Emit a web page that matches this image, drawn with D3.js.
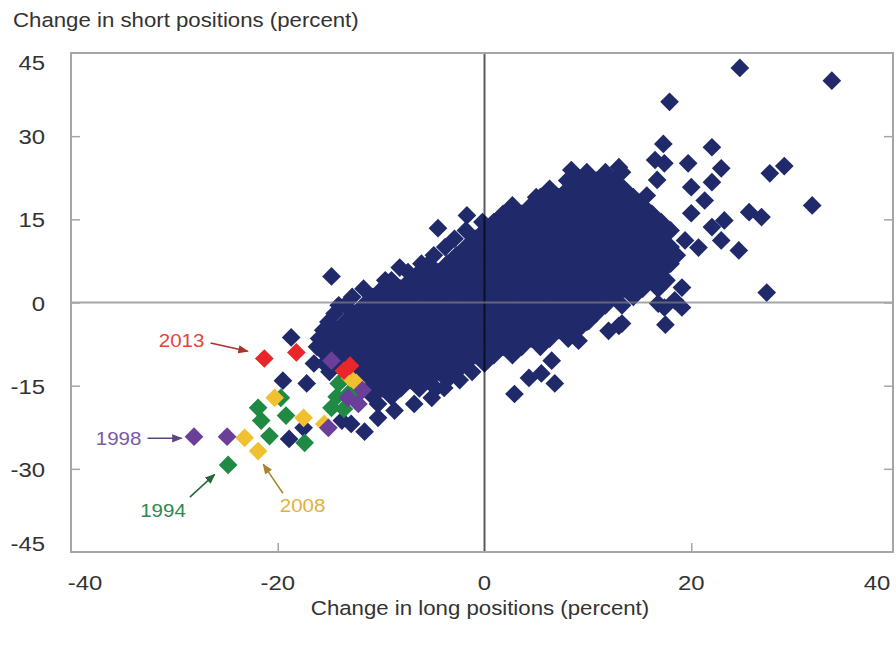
<!DOCTYPE html>
<html>
<head>
<meta charset="utf-8">
<script src="https://cdn.jsdelivr.net/npm/d3@7"></script>
<style>
  body { margin: 0; background: #fff; }
  svg { display: block; }
</style>
</head>
<body>
<svg id="chart" width="896" height="646"></svg>
<script>
// Achsen
const xTicks = [-40, -20, 0, 20, 40];
const yTicks = [-45, -30, -15, 0, 15, 30, 45];

const navyCloud = [
  [9.9,23.5],[11.7,23.5],[13.3,23.5],
  [8.0,22],[9.0,22],[10.8,22],[12.6,22],
  [6.3,20.5],[8.1,20.5],[9.9,20.5],[11.7,20.5],[13.5,20.5],
  [5.0,19],[5.4,19],[7.2,19],[9.0,19],[10.8,19],[12.6,19],[14.4,19],
  [2.7,17.5],[4.5,17.5],[6.3,17.5],[8.1,17.5],[9.9,17.5],[11.7,17.5],[13.5,17.5],[15.3,17.5],
  [1.8,16],[3.6,16],[5.4,16],[7.2,16],[9.0,16],[10.8,16],[12.6,16],[14.4,16],[16.2,16],
  [-0.2,14.5],[0.9,14.5],[2.7,14.5],[4.5,14.5],[6.3,14.5],[8.1,14.5],[9.9,14.5],[11.7,14.5],[13.5,14.5],[15.3,14.5],[17.1,14.5],
  [-1.8,13],[0,13],[1.8,13],[3.6,13],[5.4,13],[7.2,13],[9.0,13],[10.8,13],[12.6,13],[14.4,13],[16.2,13],[18.0,13],
  [-2.9,11.5],[-0.9,11.5],[0.9,11.5],[2.7,11.5],[4.5,11.5],[6.3,11.5],[8.1,11.5],[9.9,11.5],[11.7,11.5],[13.5,11.5],[15.3,11.5],[17.1,11.5],
  [-3.8,10],[-1.8,10],[0,10],[1.8,10],[3.6,10],[5.4,10],[7.2,10],[9.0,10],[10.8,10],[12.6,10],[14.4,10],[16.2,10],[18.0,10],
  [-4.9,8.5],[-2.7,8.5],[-0.9,8.5],[0.9,8.5],[2.7,8.5],[4.5,8.5],[6.3,8.5],[8.1,8.5],[9.9,8.5],[11.7,8.5],[13.5,8.5],[15.3,8.5],[17.1,8.5],[18.6,8.5],
  [-6.1,7],[-5.4,7],[-3.6,7],[-1.8,7],[0,7],[1.8,7],[3.6,7],[5.4,7],[7.2,7],[9.0,7],[10.8,7],[12.6,7],[14.4,7],[16.2,7],[18.0,7],
  [-7.4,5.5],[-6.3,5.5],[-4.5,5.5],[-2.7,5.5],[-0.9,5.5],[0.9,5.5],[2.7,5.5],[4.5,5.5],[6.3,5.5],[8.1,5.5],[9.9,5.5],[11.7,5.5],[13.5,5.5],[15.3,5.5],[17.1,5.5],
  [-9.6,4],[-9.0,4],[-7.2,4],[-5.4,4],[-3.6,4],[-1.8,4],[0,4],[1.8,4],[3.6,4],[5.4,4],[7.2,4],[9.0,4],[10.8,4],[12.6,4],[14.4,4],[16.2,4],[17.6,4],
  [-11.7,2.5],[-9.9,2.5],[-8.1,2.5],[-6.3,2.5],[-4.5,2.5],[-2.7,2.5],[-0.9,2.5],[0.9,2.5],[2.7,2.5],[4.5,2.5],[6.3,2.5],[8.1,2.5],[9.9,2.5],[11.7,2.5],[13.5,2.5],[15.3,2.5],[16.8,2.5],
  [-12.8,1],[-10.8,1],[-9.0,1],[-7.2,1],[-5.4,1],[-3.6,1],[-1.8,1],[0,1],[1.8,1],[3.6,1],[5.4,1],[7.2,1],[9.0,1],[10.8,1],[12.6,1],[14.4,1],
  [-14.1,-0.5],[-13.5,-0.5],[-11.7,-0.5],[-9.9,-0.5],[-8.1,-0.5],[-6.3,-0.5],[-4.5,-0.5],[-2.7,-0.5],[-0.9,-0.5],[0.9,-0.5],[2.7,-0.5],[4.5,-0.5],[6.3,-0.5],[8.1,-0.5],[9.9,-0.5],[11.7,-0.5],[13.3,-0.5],
  [-14.5,-2],[-12.6,-2],[-10.8,-2],[-9.0,-2],[-7.2,-2],[-5.4,-2],[-3.6,-2],[-1.8,-2],[0,-2],[1.8,-2],[3.6,-2],[5.4,-2],[7.2,-2],[9.0,-2],[10.8,-2],
  [-15.1,-3.5],[-13.5,-3.5],[-11.7,-3.5],[-9.9,-3.5],[-8.1,-3.5],[-6.3,-3.5],[-4.5,-3.5],[-2.7,-3.5],[-0.9,-3.5],[0.9,-3.5],[2.7,-3.5],[4.5,-3.5],[6.3,-3.5],[8.1,-3.5],[9.9,-3.5],
  [-15.6,-5],[-14.4,-5],[-12.6,-5],[-10.8,-5],[-9.0,-5],[-7.2,-5],[-5.4,-5],[-3.6,-5],[-1.8,-5],[0,-5],[1.8,-5],[3.6,-5],[5.4,-5],[7.2,-5],[9.0,-5],
  [-16.0,-6.5],[-15.3,-6.5],[-13.5,-6.5],[-11.7,-6.5],[-9.9,-6.5],[-8.1,-6.5],[-6.3,-6.5],[-4.5,-6.5],[-2.7,-6.5],[-0.9,-6.5],[0.9,-6.5],[2.7,-6.5],[4.5,-6.5],[6.3,-6.5],[8.1,-6.5],
  [-16.2,-8],[-14.4,-8],[-12.6,-8],[-10.8,-8],[-9.0,-8],[-7.2,-8],[-5.4,-8],[-3.6,-8],[-1.8,-8],[0,-8],[1.8,-8],[3.6,-8],[5.4,-8],
  [-15.3,-9.5],[-13.5,-9.5],[-11.7,-9.5],[-9.9,-9.5],[-8.1,-9.5],[-6.3,-9.5],[-4.5,-9.5],[-2.7,-9.5],[-0.9,-9.5],[0.9,-9.5],[2.7,-9.5],
  [-15.5,-11],[-14.4,-11],[-12.6,-11],[-10.8,-11],[-9.0,-11],[-7.2,-11],[-5.4,-11],[-3.6,-11],[-1.8,-11],[0,-11],
  [-15.0,-12.5],[-13.5,-12.5],[-11.7,-12.5],[-9.9,-12.5],[-8.1,-12.5],[-6.3,-12.5],[-4.5,-12.5],[-2.7,-12.5],[-1.2,-12.5],
  [-12.6,-14],[-10.8,-14],[-9.0,-14],[-7.2,-14],[-5.4,-14],[-3.6,-14],[-2.4,-14],
  [-11.7,-15.5],[-9.9,-15.5],[-8.1,-15.5],[-6.3,-15.5],[-4.7,-15.5],
  [-10.8,-17],[-9.0,-17]
];

// einzelne Ausreisser am Rand der Wolke
const navyOutliers = [
  [24.7,42.3],[33.6,40.0],[17.9,36.2],[17.3,28.6],[22.0,28.0],[19.7,25.1],[22.9,24.2],
  [27.6,23.3],[29.0,24.6],[22.0,21.7],[31.7,17.5],[25.6,16.3],[26.8,15.4],[23.2,14.8],
  [24.6,9.4],[22.9,11.2],[27.3,1.8],[19.1,2.7],[17.4,-0.9],[19.1,-0.9],[17.5,-4.0],
  [13.0,-4.2],[12.0,-5.1],[13.3,-3.8],[16.8,-0.2],[18.4,0.4],[10.1,-3.3],[9.1,-6.9],
  [6.5,-10.5],[6.8,-14.6],[5.5,-12.8],[4.3,-13.6],[2.9,-16.5],[-3.9,-15.4],[-5.1,-17.2],
  [-6.8,-18.3],[-14.8,4.7],[-8.2,6.3],[-4.5,13.4],[-1.7,15.7],[20.0,20.8],[21.3,18.4],
  [20.0,16.1],[22.0,13.6],[19.4,11.2],[20.7,9.9],[11.6,19.7],[9.7,20.8],[8.4,23.9],
  [13.0,24.4],[17.4,25.1],[16.5,25.7],[16.7,22.1],[15.7,19.3],
  [-18.7,-6.3],[-19.5,-14.1],[-17.2,-14.6],[-16.5,-11.0],[-18.9,-24.6],[-17.5,-22.6],
  [-11.6,-23.3],[-10.3,-20.8],[-8.7,-19.5],[-13.8,-21.3],[-12.9,-21.9],[-10.3,-18.3]
];

// markierte Jahre
const green1994 = [
  [-24.8,-29.3],[-21.9,-19.0],[-21.6,-21.3],[-20.8,-24.1],[-19.7,-17.2],[-19.2,-20.4],
  [-17.4,-25.3],[-14.1,-14.6],[-14.8,-19.0],[-13.6,-19.2],[-13.2,-16.5],[-12.6,-15.9],[-14.3,-17.0]
];
const purple1998 = [
  [-28.1,-24.2],[-24.9,-24.2],[-14.8,-10.5],[-13.2,-17.2],[-12.2,-18.3],[-15.1,-22.6],[-11.8,-15.8]
];
const yellow2008 = [
  [-23.2,-24.4],[-21.9,-26.8],[-20.3,-17.2],[-17.5,-20.8],[-12.4,-14.5],[-15.5,-21.9],[-13.0,-13.6]
];
const red2013 = [
  [-21.3,-10.1],[-18.2,-9.0],[-13.6,-12.3],[-13.0,-11.4]
];

const seriesColors = { navy: "#202a6b", y1994: "#1f8a44", y1998: "#6b3f99", y2008: "#f0c030", y2013: "#e8262b" };

/*******************************/
/*    Skalen und Container     */
/*******************************/
const svg = d3.select("#chart");
const xScale = d3.scaleLinear().domain([-40, 40]).range([71, 898]);
const yScale = d3.scaleLinear().domain([-45, 45]).range([552, 53]);
const frameRight = 893;
const stretch = 1.14; // Schrift im Original ist breit gezogen

const txt = (x, y, s, size, color, anchor) => svg.append("text")
  .attr("transform", `translate(${x},${y}) scale(${stretch},1)`)
  .attr("text-anchor", anchor || "start")
  .attr("font-family", "'Liberation Sans', Arial, sans-serif")
  .attr("font-size", size)
  .attr("fill", color)
  .text(s);

const diamond = d3.symbol(d3.symbolSquare, 175);

const drawPoints = (pts, color) => {
  svg.append("g").selectAll("path")
    .data(pts)
    .join("path")
    .attr("d", diamond)
    .attr("transform", d => `translate(${xScale(d[0])},${yScale(d[1])}) rotate(45)`)
    .attr("fill", color);
};

drawPoints(navyCloud, seriesColors.navy);
drawPoints(navyOutliers, seriesColors.navy);
drawPoints(green1994, seriesColors.y1994);
drawPoints(yellow2008, seriesColors.y2008);
drawPoints(purple1998, seriesColors.y1998);
drawPoints(red2013, seriesColors.y2013);

// Nulllinien
svg.append("line")
  .attr("x1", xScale(0)).attr("x2", xScale(0))
  .attr("y1", yScale(45)).attr("y2", yScale(-45))
  .attr("stroke", "#000").attr("stroke-opacity", 0.65).attr("stroke-width", 2);
svg.append("line")
  .attr("x1", xScale(-40)).attr("x2", frameRight)
  .attr("y1", yScale(0)).attr("y2", yScale(0))
  .attr("stroke", "#808080").attr("stroke-opacity", 0.7).attr("stroke-width", 2);

// Rahmen mit Achsen (nur Striche nach innen)
const tickCol = "#a6a6a6";
const leftAxis = d3.axisLeft(yScale).tickValues(yTicks.slice(1, -1)).tickSize(-9).tickFormat("");
const rightAxis = d3.axisRight(yScale).tickValues(yTicks.slice(1, -1)).tickSize(-9).tickFormat("");
const bottomAxis = d3.axisBottom(xScale).tickValues([-20, 20]).tickSize(-9).tickFormat("");

const gl = svg.append("g").attr("transform", `translate(${xScale(-40)},0)`).call(leftAxis);
const gr = svg.append("g").attr("transform", `translate(${frameRight},0)`).call(rightAxis);
const gb = svg.append("g").attr("transform", `translate(0,${yScale(-45)})`).call(bottomAxis);
[gl, gr, gb].forEach(g => {
  g.select(".domain").remove();
  g.selectAll("line").attr("stroke", tickCol).attr("stroke-width", 1.5);
});

svg.append("rect")
  .attr("x", xScale(-40)).attr("y", yScale(45))
  .attr("width", frameRight - xScale(-40)).attr("height", yScale(-45) - yScale(45))
  .attr("fill", "none").attr("stroke", tickCol).attr("stroke-width", 2);

// Beschriftung der Achsen (Randwerte nach innen versetzt wie im Original)
const textCol = "#333";
yTicks.forEach(v => {
  let yy = yScale(v);
  if (v === 45) yy += 9;
  if (v === -45) yy -= 9;
  txt(45, yy + 8, String(v), 21, textCol, "end");
});
xTicks.forEach(v => {
  let xx = xScale(v);
  if (v === -40) xx += 14;
  if (v === 40) xx -= 21;
  txt(xx, 590, String(v), 21, textCol, "middle");
});

txt(13, 27, "Change in short positions (percent)", 19.5, textCol, "start");
txt(480, 615, "Change in long positions (percent)", 19.5, textCol, "middle");

// Jahres-Markierungen mit Pfeilen
const annotations = [
  { label: "2013", color: "#e0453a", at: [-29.3, -6.8], from: [-26.5, -7.3], to: [-22.9, -8.8] },
  { label: "1998", color: "#7a5aa8", at: [-35.4, -24.5], from: [-32.6, -24.5], to: [-29.3, -24.5] },
  { label: "1994", color: "#2e8a4e", at: [-31.1, -37.5], from: [-28.5, -35.1], to: [-26.1, -31.0] },
  { label: "2008", color: "#e0b040", at: [-17.6, -36.7], from: [-19.5, -34.4], to: [-21.4, -29.2] }
];

const defs = svg.append("defs");
annotations.forEach((a, i) => {
  defs.append("marker")
    .attr("id", `arr${i}`)
    .attr("viewBox", "0 0 10 10").attr("refX", 9).attr("refY", 5)
    .attr("markerWidth", 7).attr("markerHeight", 7).attr("orient", "auto")
    .append("path").attr("d", "M0,1 L10,5 L0,9 Z").attr("fill", d3.color(a.color).darker(0.8));

  svg.append("line")
    .attr("x1", xScale(a.from[0])).attr("y1", yScale(a.from[1]))
    .attr("x2", xScale(a.to[0])).attr("y2", yScale(a.to[1]))
    .attr("stroke", d3.color(a.color).darker(0.8)).attr("stroke-width", 1.5)
    .attr("marker-end", `url(#arr${i})`);

  txt(xScale(a.at[0]), yScale(a.at[1]) + 6.5, a.label, 18, a.color, "middle");
});
</script>
</body>
</html>
